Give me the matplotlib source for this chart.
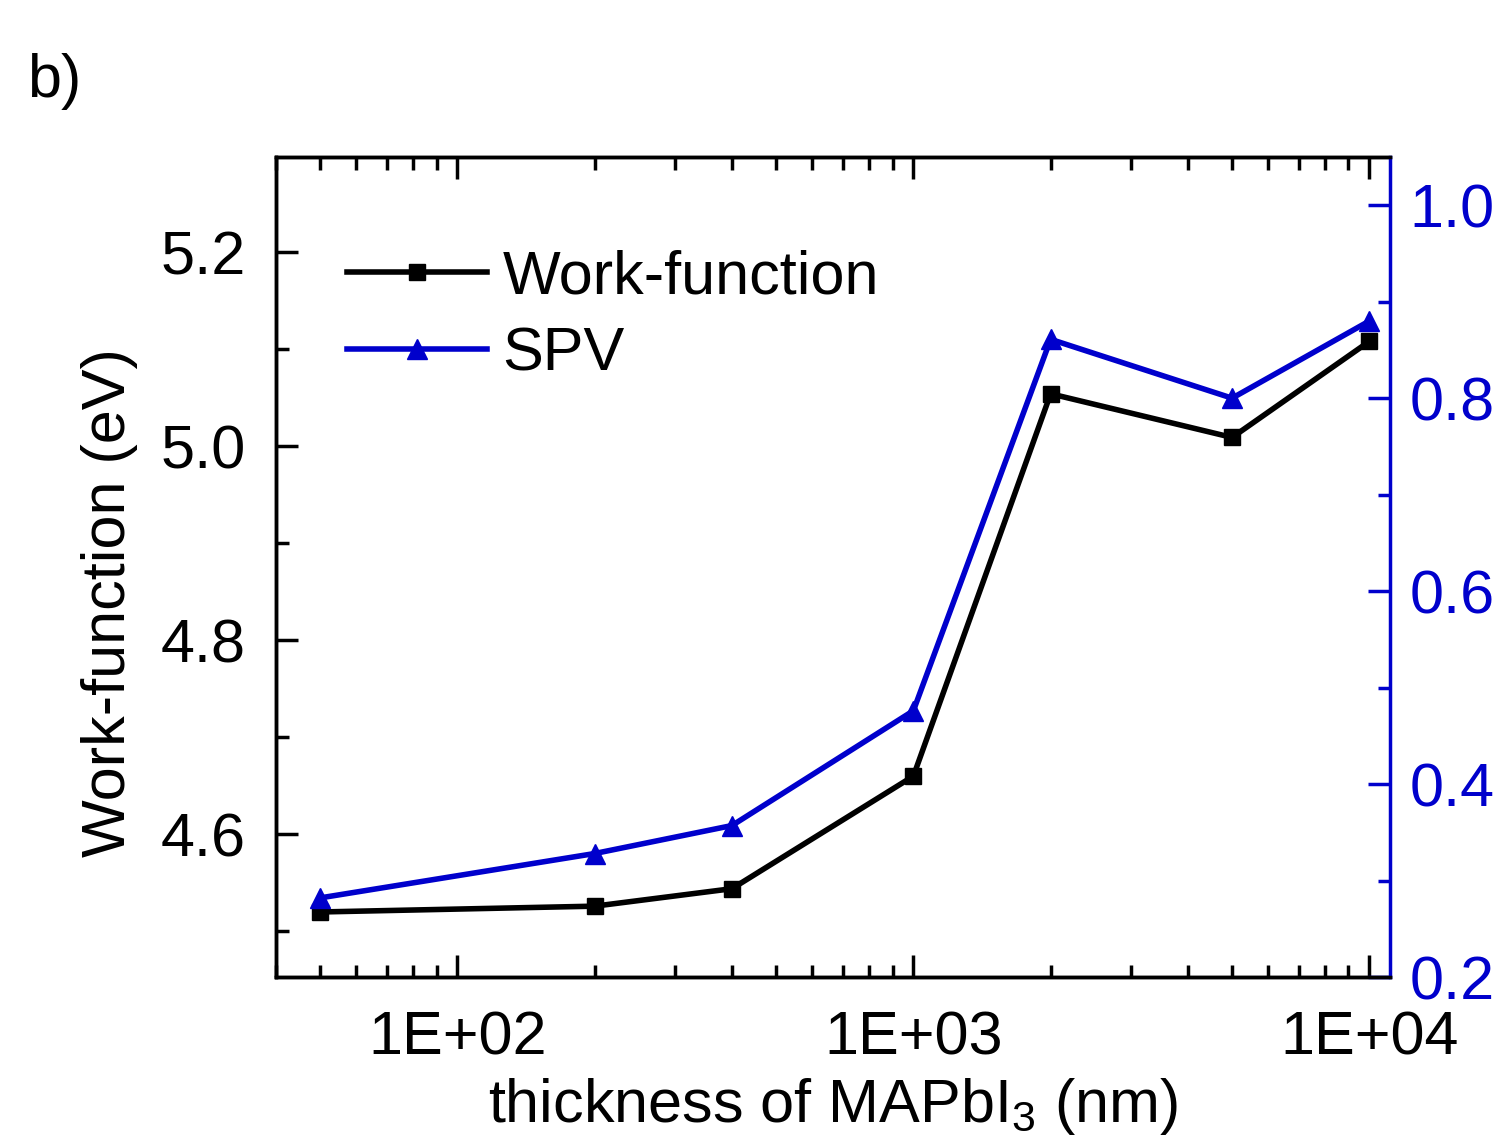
import matplotlib
matplotlib.use("Agg")
import matplotlib.pyplot as plt
from matplotlib.ticker import FixedLocator, MultipleLocator, LogLocator, NullFormatter

plt.rcParams['font.family'] = ['Liberation Sans', 'DejaVu Sans']
plt.rcParams['mathtext.fontset'] = 'custom'
plt.rcParams['mathtext.rm'] = 'Liberation Sans'
plt.rcParams['mathtext.it'] = 'Liberation Sans'

thickness = [50, 200, 400, 1000, 2000, 5000, 10000]
work_function = [4.520, 4.526, 4.544, 4.660, 5.054, 5.009, 5.108]
spv = [0.282, 0.328, 0.357, 0.476, 0.861, 0.800, 0.880]
xticks = [100, 1000, 10000]
xticklabels = ["1E+02", "1E+03", "1E+04"]
left_ticks = [4.6, 4.8, 5.0, 5.2]
right_ticks = [0.2, 0.4, 0.6, 0.8, 1.0]

BLUE = "#0000cc"
fs = 44

fig = plt.figure(figsize=(14.94, 11.43), dpi=100)
ax = fig.add_axes([276/1494, 1 - 977/1143, (1390-276)/1494, (977-157)/1143])
ax2 = ax.twinx()

l1, = ax.plot(thickness, work_function, color="black", lw=4, marker="s", ms=12, label="Work-function")
l2, = ax2.plot(thickness, spv, color=BLUE, lw=4, marker="^", ms=14, label="SPV")

ax.set_xscale("log")
ax.set_xlim(40, 11100)
ax.set_ylim(4.453, 5.298)
ax2.set_ylim(0.2, 1.05)

ax.xaxis.set_major_locator(FixedLocator(xticks))
ax.set_xticklabels(xticklabels)
ax.xaxis.set_minor_locator(LogLocator(base=10, subs=range(2, 10)))
ax.xaxis.set_minor_formatter(NullFormatter())
ax.yaxis.set_major_locator(FixedLocator(left_ticks))
ax.yaxis.set_minor_locator(MultipleLocator(0.1))
ax2.yaxis.set_major_locator(FixedLocator(right_ticks))
ax2.yaxis.set_minor_locator(MultipleLocator(0.1))
ax2.set_yticklabels([f"{v:.1f}" for v in right_ticks])
ax.set_yticklabels([f"{v:.1f}" for v in left_ticks])

ax.tick_params(axis="x", which="both", direction="in", top=True, labelsize=fs, pad=24, width=2.5)
ax.tick_params(axis="x", which="major", length=16)
ax.tick_params(axis="x", which="minor", length=9)
ax.tick_params(axis="y", which="both", direction="in", left=True, right=False, labelsize=fs, pad=22, width=2.5)
ax.tick_params(axis="y", which="major", length=16)
ax.tick_params(axis="y", which="minor", length=9)
ax2.tick_params(axis="y", which="both", direction="in", colors=BLUE, labelsize=fs, pad=14, width=2.5)
ax2.tick_params(axis="y", which="major", length=16)
ax2.tick_params(axis="y", which="minor", length=9)

for s in ["left", "top", "bottom"]:
    ax.spines[s].set_linewidth(2.5)
    ax2.spines[s].set_linewidth(2.5)
ax2.spines["right"].set_color(BLUE)
ax2.spines["right"].set_linewidth(2.5)
ax.spines["right"].set_visible(False)

ax.set_ylabel("Work-function (eV)", fontsize=fs)
ax.yaxis.set_label_coords(-0.124, 0.456)
ax.set_xlabel("thickness of MAPbI$_3$ (nm)", fontsize=fs, labelpad=6)

ax.legend(handles=[l1, l2], loc="upper left", bbox_to_anchor=(0.0415, 0.917), frameon=False,
          fontsize=fs, handlelength=2.3, handletextpad=0.25, labelspacing=0.32, borderaxespad=0)

fig.text(27/1494, 1 - 82/1143, "b)", fontsize=fs, va="center", ha="left")

fig.savefig("out.png", dpi=100)
